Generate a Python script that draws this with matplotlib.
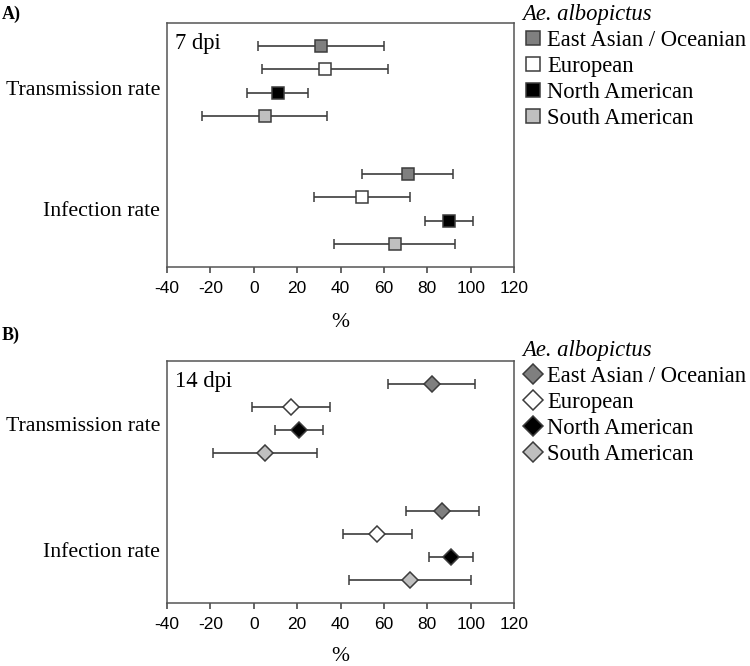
import matplotlib
matplotlib.use('Agg')
import matplotlib.pyplot as plt
from matplotlib.lines import Line2D

groups = ['East Asian / Oceanian', 'European', 'North American', 'South American']
colors = ['#7f7f7f', '#ffffff', '#000000', '#bfbfbf']
measures = ['Transmission rate', 'Infection rate']
xticks = [-40, -20, 0, 20, 40, 60, 80, 100, 120]

# Panel A: 7 dpi (point estimate, lower CI, upper CI)
a_trans = [31, 33, 11, 5]
a_trans_lo = [2, 4, -3, -24]
a_trans_hi = [60, 62, 25, 34]
a_inf = [71, 50, 90, 65]
a_inf_lo = [50, 28, 79, 37]
a_inf_hi = [92, 72, 101, 93]

# Panel B: 14 dpi
b_trans = [82, 17, 21, 5]
b_trans_lo = [62, -1, 10, -19]
b_trans_hi = [102, 35, 32, 29]
b_inf = [87, 57, 91, 72]
b_inf_lo = [70, 41, 81, 44]
b_inf_hi = [104, 73, 101, 100]

SERIF = ['Liberation Serif', 'DejaVu Serif']
SANS = ['Liberation Sans', 'DejaVu Sans']
EDGE = '#3c3c3c'
FS = 16.3

fig = plt.figure(figsize=(7.5, 6.66), dpi=100)

def panel(rect, trans, tlo, thi, inf, ilo, ihi, marker, ms, leg_ms, dpi_text, label_pos,
          panel_label, panel_label_y, leg_anchor, xpad):
    ax = fig.add_axes(rect)
    trans_y = [0, 1, 2, 3]
    inf_y = [5.5, 6.5, 7.5, 8.5]
    for vals, lo, hi, ys in ((trans, tlo, thi, trans_y), (inf, ilo, ihi, inf_y)):
        for i in range(len(groups)):
            ax.errorbar([vals[i]], [ys[i]],
                        xerr=[[vals[i] - lo[i]], [hi[i] - vals[i]]],
                        fmt=marker, ms=ms, mfc=colors[i], mec=EDGE, mew=1.1,
                        ecolor=EDGE, elinewidth=1.2, capsize=3.5, capthick=1.2,
                        zorder=3)
    ax.set_xlim(-40, 120)
    ax.set_ylim(9.5, -1.0)
    ax.set_xticks(xticks)
    ax.set_xticklabels([str(t) for t in xticks], family=SANS, fontsize=12.5)
    ax.tick_params(axis='x', direction='out', length=4, width=1.1, color=EDGE, pad=6)
    ax.set_yticks(label_pos)
    ax.set_yticklabels(measures, family=SERIF, fontsize=15.7)
    ax.tick_params(axis='y', length=0, pad=5)
    for s in ax.spines.values():
        s.set_color('#555555')
        s.set_linewidth(1.1)
    ax.set_xlabel('%', family=SERIF, fontsize=15.5, labelpad=xpad)
    ax.text(0.022, 0.893, dpi_text, transform=ax.transAxes, family=SERIF,
            fontsize=FS, va='baseline', ha='left')
    fig.text(2 / 750, 1 - panel_label_y / 666, panel_label, family=SERIF,
             fontsize=13, fontweight='bold', va='center', ha='left')
    handles = [Line2D([], [], ls='none', marker=marker, ms=leg_ms, mfc=colors[i],
                      mec=EDGE, mew=1.1) for i in range(len(groups))]
    fig.legend(handles, groups, loc='upper left', bbox_to_anchor=leg_anchor,
               frameon=False, prop={'family': SERIF, 'size': FS},
               title='Ae. albopictus',
               title_fontproperties={'family': SERIF, 'size': FS, 'style': 'italic'},
               alignment='left', borderpad=0, borderaxespad=0,
               handlelength=1.0, handletextpad=0.12, labelspacing=0.22)
    return ax

panel([167 / 750, 1 - 267 / 666, 347 / 750, 244 / 666],
      a_trans, a_trans_lo, a_trans_hi, a_inf, a_inf_lo, a_inf_hi,
      's', 9, 10.5, '7 dpi', [1.78, 7.0], 'A)', 14, (522 / 750, 1 - 4 / 666), 12)
panel([167 / 750, 1 - 603 / 666, 347 / 750, 242 / 666],
      b_trans, b_trans_lo, b_trans_hi, b_inf, b_inf_lo, b_inf_hi,
      'D', 8.5, 10, '14 dpi', [1.75, 7.2], 'B)', 335, (522 / 750, 1 - 340 / 666), 11)

fig.savefig('out.png', dpi=100)
